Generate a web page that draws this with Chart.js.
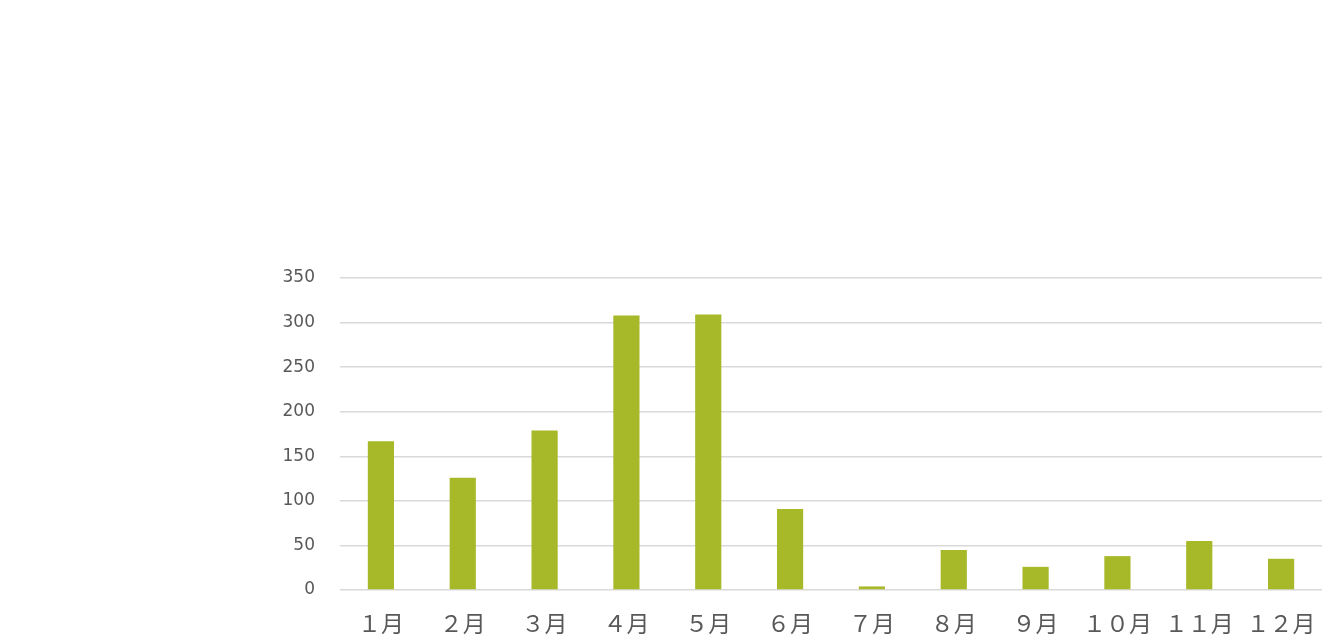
<!DOCTYPE html>
<html>
<head>
<meta charset="utf-8">
<script src="https://cdn.jsdelivr.net/npm/chart.js@4"></script>
<style>
  html, body { margin: 0; padding: 0; background: #fff; }
  #wrap { width: 1329px; height: 642px; }
</style>
</head>
<body>
<div id="wrap"><canvas id="bar-chart"></canvas></div>
<script>
const months = ["１月", "２月", "３月", "４月", "５月", "６月", "７月", "８月", "９月", "１０月", "１１月", "１２月"];
const counts = [167, 126, 179, 308, 309, 91, 4, 45, 26, 38, 55, 35];
const yTicks = [0, 50, 100, 150, 200, 250, 300, 350];

const barColor = "#a7b828";
const textColor = "#595959";

new Chart(document.querySelector("#bar-chart").getContext("2d"), {
  type: "bar",
  data: {
    labels: months,
    datasets: [
      {
        data: counts,
        backgroundColor: barColor,
        categoryPercentage: 1,
        barPercentage: 0.32,
      },
    ],
  },
  options: {
    responsive: true,
    maintainAspectRatio: false,
    animation: false,
    layout: { padding: { top: 278, right: 7, bottom: 0, left: 0 } },
    plugins: { legend: { display: false }, tooltip: { enabled: false } },
    scales: {
      x: {
        grid: { display: false, drawTicks: false },
        border: { display: false },
        ticks: {
          color: textColor,
          padding: 19,
          maxRotation: 0,
          font: { family: "'Noto Sans CJK JP'", size: 23 },
        },
        afterFit: (scale) => {
          scale.height = 52;
          scale.paddingLeft = 0;
          scale.paddingRight = 0;
        },
      },
      y: {
        min: 0,
        max: 350,
        afterBuildTicks: (scale) => {
          scale.ticks = yTicks.map((v) => ({ value: v }));
        },
        grid: { color: "#d9d9d9", lineWidth: 1.5, drawTicks: false },
        border: { display: false },
        ticks: {
          color: textColor,
          padding: 25,
          font: { family: "'DejaVu Sans'", size: 17 },
        },
        afterFit: (scale) => { scale.width = 340; },
      },
    },
  },
});
</script>
</body>
</html>
